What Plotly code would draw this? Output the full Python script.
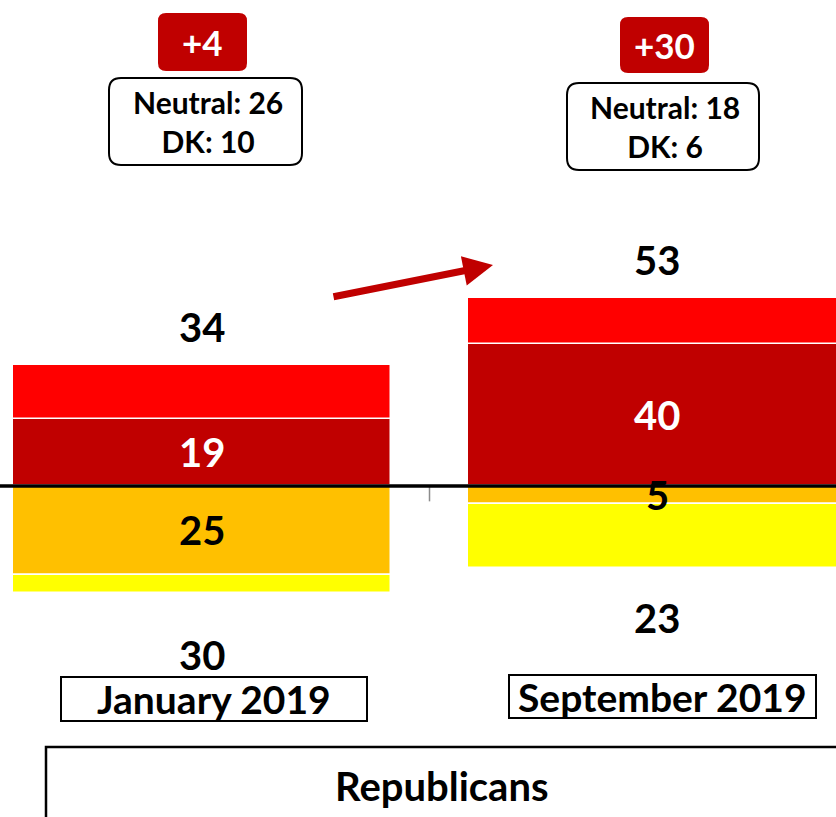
import plotly.graph_objects as go

# data
periods = ["January 2019", "September 2019"]
pos_inner = [19, 40]   # dark red, next to the zero line
pos_outer = [15, 13]   # bright red
neg_inner = [25, 5]    # orange, next to the zero line
neg_outer = [5, 18]    # yellow
neutral = [26, 18]
dont_know = [10, 6]
group = "Republicans"

pos_total = [a + b for a, b in zip(pos_inner, pos_outer)]
neg_total = [a + b for a, b in zip(neg_inner, neg_outer)]
net = [p - n for p, n in zip(pos_total, neg_total)]

W, H = 836, 817
FONT = "Lato"
DARK_RED = "#C00000"


def fx(px):
    return px / W


def fy(py):
    return 1 - py / H


def rounded_path(x0, y0, x1, y1, r):
    return (f"M {fx(x0 + r)},{fy(y0)} L {fx(x1 - r)},{fy(y0)} "
            f"Q {fx(x1)},{fy(y0)} {fx(x1)},{fy(y0 + r)} "
            f"L {fx(x1)},{fy(y1 - r)} Q {fx(x1)},{fy(y1)} {fx(x1 - r)},{fy(y1)} "
            f"L {fx(x0 + r)},{fy(y1)} Q {fx(x0)},{fy(y1)} {fx(x0)},{fy(y1 - r)} "
            f"L {fx(x0)},{fy(y0 + r)} Q {fx(x0)},{fy(y0)} {fx(x0 + r)},{fy(y0)} Z")


def paper_text(px, py, text, size, color="black"):
    fig.add_annotation(x=fx(px), y=fy(py), xref="paper", yref="paper", text=text,
                       showarrow=False, xanchor="center", yanchor="middle",
                       font=dict(family=FONT, size=size, color=color))


x = list(range(len(periods)))
fig = go.Figure()
bar_style = dict(width=0.829, marker_line=dict(color="white", width=1.5),
                 hoverinfo="skip", showlegend=False)
fig.add_trace(go.Bar(x=x, y=pos_inner, marker_color=DARK_RED, **bar_style))
fig.add_trace(go.Bar(x=x, y=pos_outer, marker_color="#FF0000", **bar_style))
fig.add_trace(go.Bar(x=x, y=[-v for v in neg_inner], marker_color="#FFC000", **bar_style))
fig.add_trace(go.Bar(x=x, y=[-v for v in neg_outer], marker_color="#FFFF00", **bar_style))

# zero line and the small category tick between the bars
fig.add_hline(y=0, line_color="black", line_width=3.5)
fig.add_shape(type="line", x0=0.5, x1=0.5, y0=0, y1=-4.3,
              line=dict(color="#8C8C8C", width=1.5), layer="below")

num_font = dict(family=FONT, size=40, color="black")
neg_shift = [-62, -50]
for i in x:
    fig.add_annotation(x=i, y=pos_total[i], text=f"<b>{pos_total[i]}</b>", showarrow=False,
                       yshift=38, font=num_font)
    fig.add_annotation(x=i, y=-neg_total[i], text=f"<b>{neg_total[i]}</b>", showarrow=False,
                       yshift=neg_shift[i], font=num_font)
    fig.add_annotation(x=i, y=pos_inner[i] / 2, text=f"<b>{pos_inner[i]}</b>", showarrow=False,
                       font=dict(family=FONT, size=40, color="white"))
    fig.add_annotation(x=i, y=-neg_inner[i] / 2, text=f"<b>{neg_inner[i]}</b>", showarrow=False,
                       font=num_font)

# boxes above and below the bars (pixel positions)
net_boxes = [(158, 13, 247, 71), (620, 17, 709, 73)]
info_boxes = [(109, 78, 302, 165), (567, 83, 759, 170)]
period_boxes = [(61, 677, 367, 721), (509, 675, 816, 718)]
for i in x:
    b = net_boxes[i]
    fig.add_shape(type="path", path=rounded_path(*b, 8), xref="paper", yref="paper",
                  fillcolor=DARK_RED, line=dict(width=0))
    paper_text((b[0] + b[2]) / 2, (b[1] + b[3]) / 2, f"<b>+{net[i]}</b>", 35, "white")
    b = info_boxes[i]
    fig.add_shape(type="path", path=rounded_path(*b, 12), xref="paper", yref="paper",
                  fillcolor="white", line=dict(color="black", width=2))
    paper_text((b[0] + b[2]) / 2 + 2, (b[1] + b[3]) / 2,
               f"<b>Neutral: {neutral[i]}<br>DK: {dont_know[i]}</b>", 30)
    b = period_boxes[i]
    fig.add_shape(type="rect", x0=fx(b[0]), x1=fx(b[2]), y0=fy(b[1]), y1=fy(b[3]),
                  xref="paper", yref="paper", line=dict(color="black", width=2))
    paper_text((b[0] + b[2]) / 2, (b[1] + b[3]) / 2, f"<b>{periods[i]}</b>", 39)

fig.add_shape(type="rect", x0=fx(46), x1=fx(860), y0=fy(747), y1=fy(840),
              xref="paper", yref="paper", line=dict(color="black", width=2.5))
paper_text(442, 786, f"<b>{group}</b>", 40)

# arrow showing the shift
fig.add_annotation(x=fx(493), y=fy(265), xref="paper", yref="paper", text="",
                   showarrow=True, ax=-161, ay=32, arrowhead=2, arrowsize=0.85,
                   arrowwidth=7, arrowcolor=DARK_RED, standoff=0)

fig.update_layout(
    width=W, height=H, margin=dict(l=0, r=0, t=0, b=0),
    plot_bgcolor="white", paper_bgcolor="white",
    barmode="relative", bargap=0,
    xaxis=dict(range=[-0.444, 1.3934], visible=False, fixedrange=True),
    yaxis=dict(range=[-93.2, 136.9], visible=False, fixedrange=True),
)

fig.write_html("out.html", config={"displayModeBar": False},
               post_script="document.body.style.margin='0';")
